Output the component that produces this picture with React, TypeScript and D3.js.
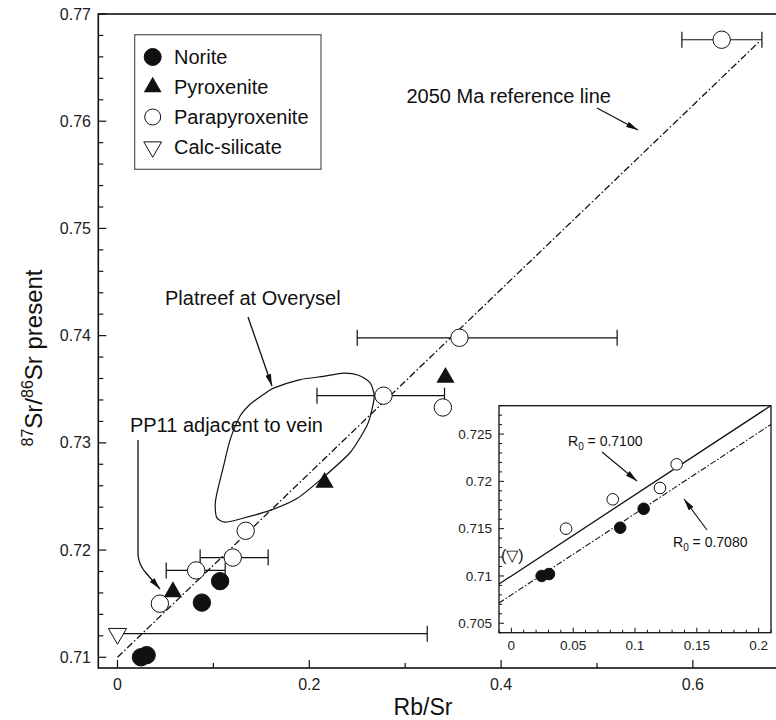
import React from "react";
import * as d3 from "d3";

const W = 776;
const H = 720;
const FONT = "'Liberation Sans', Arial, Helvetica, sans-serif";

// [Rb/Sr, 87Sr/86Sr present]
const norite: [number, number][] = [
  [0.0245, 0.71],
  [0.0304, 0.7102],
  [0.088, 0.7151],
  [0.107, 0.7171],
];
const pyroxenite: [number, number][] = [
  [0.0578, 0.7161],
  [0.2159, 0.7263],
  [0.342, 0.7361],
];
const parapyroxenite: [number, number][] = [
  [0.0442, 0.715],
  [0.082, 0.7181],
  [0.1202, 0.7193],
  [0.1337, 0.7218],
  [0.2774, 0.7344],
  [0.3393, 0.7333],
  [0.3566, 0.7398],
  [0.63, 0.7676],
];
const calcSilicate: [number, number][] = [[0, 0.7122]];

// horizontal error bars: [x, y, low, high]
const errorBars: [number, number, number, number][] = [
  [0.082, 0.7181, 0.0508, 0.1123],
  [0.1202, 0.7193, 0.0862, 0.1571],
  [0.2774, 0.7344, 0.208, 0.341],
  [0.3566, 0.7398, 0.25, 0.521],
  [0.63, 0.7676, 0.5885, 0.672],
  [0, 0.7122, 0, 0.323],
];

// Platreef at Overysel field outline
const platreef: [number, number][] = [
  [0.1037, 0.723], [0.1019, 0.7242], [0.1037, 0.7253], [0.1105, 0.7278],
  [0.1175, 0.7303], [0.1279, 0.7325], [0.1384, 0.7336], [0.1522, 0.7345],
  [0.1627, 0.7351], [0.1905, 0.7359], [0.2148, 0.7362], [0.2357, 0.7365],
  [0.2513, 0.7363], [0.2635, 0.7356], [0.2677, 0.7344], [0.2653, 0.7331],
  [0.2601, 0.7316], [0.2426, 0.7291], [0.2148, 0.7268], [0.1871, 0.7248],
  [0.1592, 0.7237], [0.1279, 0.7229], [0.1123, 0.7226],
];

// 2050 Ma reference line
const refIntercept = 0.71;
const refSlope = 0.0858;
const refRange = [0, 0.67];
const insetR0 = [0.71, 0.708];

const xTicks = [0, 0.2, 0.4, 0.6];
const yTicks = [0.71, 0.72, 0.73, 0.74, 0.75, 0.76, 0.77];
const insetXTicks = [0, 0.05, 0.1, 0.15, 0.2];
const insetYTicks = [0.705, 0.71, 0.715, 0.72, 0.725];

const legendItems = ["Norite", "Pyroxenite", "Parapyroxenite", "Calc-silicate"];

const near = (v: number, step: number) => Math.abs(v / step - Math.round(v / step)) < 1e-6;

function Marker({ kind, x, y, r }: { kind: number; x: number; y: number; r: number }) {
  if (kind === 0) return <circle cx={x} cy={y} r={r} fill="#111" stroke="#111" />;
  if (kind === 2) return <circle cx={x} cy={y} r={r} fill="#fff" stroke="#111" strokeWidth={1} />;
  const sym = d3.symbol().type(d3.symbolTriangle).size(r * r * 1.9)() as string;
  if (kind === 1) return <path d={sym} transform={`translate(${x},${y})`} fill="#111" />;
  return <path d={sym} transform={`translate(${x},${y}) rotate(180)`} fill="#fff" stroke="#111" strokeWidth={1} />;
}

export default function App() {
  const x = d3.scaleLinear().domain([-0.02, 0.7]).range([98.3, 788.8]);
  const y = d3.scaleLinear().domain([0.709, 0.77]).range([668, 14]);
  const ix = d3.scaleLinear().domain([-0.01, 0.21]).range([499, 771]);
  const iy = d3.scaleLinear().domain([0.704, 0.728]).range([632.7, 405.7]);

  const outline = d3.line<[number, number]>().x(d => x(d[0])).y(d => y(d[1])).curve(d3.curveCardinalClosed.tension(0.3))(platreef) as string;
  const refLine = d3.line<number>().x(v => x(v)).y(v => y(refIntercept + refSlope * v))(refRange) as string;
  const insetLine = (r0: number) =>
    d3.line<number>().x(v => ix(v)).y(v => iy(r0 + refSlope * v))([-0.01, 0.21]) as string;

  const groups: [number, [number, number][]][] = [
    [0, norite], [1, pyroxenite], [2, parapyroxenite], [3, calcSilicate],
  ];
  const insetGroups: [number, [number, number][]][] = [[2, parapyroxenite], [0, norite]];

  return (
    <svg width={W} height={H} style={{ position: "absolute", left: 0, top: 0, background: "#fff" }} fontFamily={FONT}>
      <defs>
        <marker id="arr" viewBox="0 0 12 6" refX={12} refY={3} markerWidth={12} markerHeight={6} orient="auto" markerUnits="userSpaceOnUse">
          <path d="M0,0 L12,3 L0,6 Z" fill="#111" />
        </marker>
        <clipPath id="insetClip">
          <rect x={499} y={405.7} width={272} height={227} />
        </clipPath>
      </defs>
      <rect width={W} height={H} fill="#fff" />

      {/* main frame */}
      <rect x={98.3} y={14} width={720} height={654} fill="none" stroke="#111" strokeWidth={1.6} />

      {/* y ticks */}
      {y.ticks(30).map(v => (
        <line key={"yt" + v} x1={98.3} x2={98.3 + (near(v, 0.01) ? 8 : 5)} y1={y(v)} y2={y(v)} stroke="#111" strokeWidth={1.2} />
      ))}
      {yTicks.map(v => (
        <text key={"yl" + v} x={91} y={y(v)} dy="0.35em" textAnchor="end" fontSize={16} fill="#222">{String(v)}</text>
      ))}
      {/* x ticks */}
      {x.ticks(8).filter(v => v >= 0).map(v => (
        <line key={"xt" + v} x1={x(v)} x2={x(v)} y1={668} y2={668 - (near(v, 0.2) ? 8 : 5)} stroke="#111" strokeWidth={1.2} />
      ))}
      {xTicks.map(v => (
        <text key={"xl" + v} x={x(v)} y={690} textAnchor="middle" fontSize={16} fill="#222">{String(v)}</text>
      ))}

      <text x={423} y={715} textAnchor="middle" fontSize={23} fill="#111">Rb/Sr</text>
      <text transform="translate(42,358) rotate(-90)" textAnchor="middle" fontSize={24} fill="#111">
        <tspan fontSize={16} dy={-9}>87</tspan>
        <tspan dy={9}>Sr/</tspan>
        <tspan fontSize={16} dy={-9}>86</tspan>
        <tspan dy={9}>Sr present</tspan>
      </text>

      {/* platreef field */}
      <path d={outline} fill="none" stroke="#111" strokeWidth={1.2} />

      {/* reference line */}
      <path d={refLine} fill="none" stroke="#111" strokeWidth={1.3} strokeDasharray="7,2.5,1.5,2.5" />

      {/* error bars */}
      {errorBars.map(([px, py, lo, hi], i) => (
        <g key={"eb" + i} stroke="#111" strokeWidth={1.2}>
          <line x1={x(lo)} x2={x(hi)} y1={y(py)} y2={y(py)} />
          {lo < px && <line x1={x(lo)} x2={x(lo)} y1={y(py) - 8} y2={y(py) + 8} />}
          <line x1={x(hi)} x2={x(hi)} y1={y(py) - 8} y2={y(py) + 8} />
        </g>
      ))}

      {/* points */}
      {groups.map(([kind, pts]) =>
        pts.map((d, i) => <Marker key={kind + "-" + i} kind={kind} x={x(d[0])} y={y(d[1])} r={8.7} />)
      )}

      {/* annotations */}
      <text x={611} y={103} textAnchor="end" fontSize={20} fill="#111">{"2050 Ma reference line"}</text>
      <line x1={597} y1={108} x2={638} y2={130} stroke="#111" strokeWidth={1.3} markerEnd="url(#arr)" />
      <text x={165} y={305} fontSize={20} fill="#111">Platreef at Overysel</text>
      <line x1={248} y1={317} x2={272} y2={386} stroke="#111" strokeWidth={1.3} markerEnd="url(#arr)" />
      <text x={323} y={432} textAnchor="end" fontSize={20} fill="#111">PP11 adjacent to vein</text>
      <path d="M138,440 L138,555 Q139,565 146,573 L160,589" fill="none" stroke="#111" strokeWidth={1.3} markerEnd="url(#arr)" />

      {/* legend */}
      <rect x={134.7} y={34.7} width={186.3} height={134.6} fill="#fff" stroke="#555" strokeWidth={1.2} />
      {legendItems.map((name, i) => {
        const ly = 57 + i * 30;
        return (
          <g key={name}>
            <Marker kind={i} x={152.7} y={ly} r={i === 2 ? 8 : 8.5} />
            <text x={174} y={ly} dy="0.35em" fontSize={20} fill="#111">{name}</text>
          </g>
        );
      })}

      {/* inset */}
      <rect x={499} y={405.7} width={272} height={227} fill="#fff" stroke="#111" strokeWidth={1.3} />
      {iy.ticks(24).map(v => (
        <line key={"iyt" + v} x1={499} x2={499 + (near(v, 0.005) ? 5 : 3)} y1={iy(v)} y2={iy(v)} stroke="#111" strokeWidth={1} />
      ))}
      {insetYTicks.map(v => (
        <text key={"iyl" + v} x={492} y={iy(v)} dy="0.35em" textAnchor="end" fontSize={13.5} fill="#222">{String(v)}</text>
      ))}
      {ix.ticks(22).map(v => (
        <line key={"ixt" + v} x1={ix(v)} x2={ix(v)} y1={632.7} y2={632.7 - (near(v, 0.05) ? 5 : 3)} stroke="#111" strokeWidth={1} />
      ))}
      {insetXTicks.map(v => (
        <text key={"ixl" + v} x={ix(v)} y={650} textAnchor="middle" fontSize={13.5} fill="#222">{String(v)}</text>
      ))}
      <g clipPath="url(#insetClip)">
        <path d={insetLine(insetR0[0])} fill="none" stroke="#111" strokeWidth={1.3} />
        <path d={insetLine(insetR0[1])} fill="none" stroke="#111" strokeWidth={1.1} strokeDasharray="6,2,1.5,2" />
      </g>
      {insetGroups.map(([kind, pts]) =>
        pts.filter(d => d[0] < 0.2).map((d, i) => (
          <Marker key={"in" + kind + "-" + i} kind={kind} x={ix(d[0])} y={iy(d[1])} r={5.8} />
        ))
      )}
      <text x={501} y={iy(calcSilicate[0][1])} dy="0.35em" fontSize={16} fill="#111">(▽)</text>
      <text x={568} y={446} fontSize={14} fill="#111">
        R<tspan fontSize={10} dy={4}>0</tspan><tspan dy={-4}>{" = " + insetR0[0].toFixed(4)}</tspan>
      </text>
      <line x1={602} y1={452} x2={637} y2={481} stroke="#111" strokeWidth={1.1} markerEnd="url(#arr)" />
      <text x={673} y={547} fontSize={14} fill="#111">
        R<tspan fontSize={10} dy={4}>0</tspan><tspan dy={-4}>{" = " + insetR0[1].toFixed(4)}</tspan>
      </text>
      <line x1={707} y1={530} x2={684} y2={499} stroke="#111" strokeWidth={1.1} markerEnd="url(#arr)" />
    </svg>
  );
}
